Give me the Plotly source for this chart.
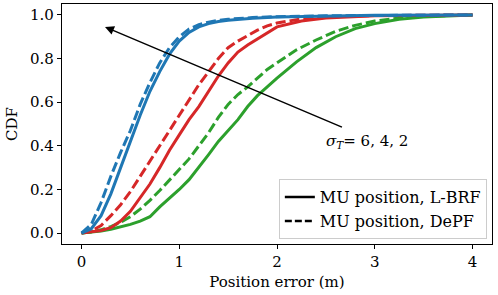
import plotly.graph_objects as go

# ---- data ----
x_blue = [0, 0.1, 0.2, 0.3, 0.4, 0.5, 0.6, 0.7, 0.8, 0.9, 1.0, 1.1, 1.2, 1.3, 1.4, 1.5, 1.75, 2.0, 2.5, 3.0, 4.0]
blue_lbrf = [0, 0.02, 0.08, 0.18, 0.30, 0.42, 0.54, 0.65, 0.74, 0.82, 0.88, 0.92, 0.945, 0.96, 0.97, 0.975, 0.985, 0.99, 0.995, 0.998, 1.0]
blue_depf = [0, 0.04, 0.14, 0.26, 0.37, 0.47, 0.59, 0.69, 0.78, 0.85, 0.90, 0.935, 0.955, 0.967, 0.975, 0.98, 0.988, 0.992, 0.996, 0.998, 1.0]

x_red = [0, 0.1, 0.2, 0.3, 0.4, 0.5, 0.6, 0.7, 0.8, 0.9, 1.0, 1.1, 1.2, 1.3, 1.4, 1.5, 1.6, 1.7, 1.8, 1.9, 2.0, 2.25, 2.5, 3.0, 4.0]
red_lbrf = [0, 0.005, 0.012, 0.025, 0.055, 0.10, 0.16, 0.225, 0.30, 0.38, 0.45, 0.52, 0.58, 0.65, 0.72, 0.78, 0.83, 0.862, 0.89, 0.92, 0.945, 0.972, 0.986, 0.996, 1.0]
red_depf = [0, 0.01, 0.035, 0.08, 0.13, 0.19, 0.26, 0.33, 0.40, 0.47, 0.54, 0.61, 0.68, 0.74, 0.80, 0.85, 0.88, 0.905, 0.93, 0.95, 0.963, 0.982, 0.991, 0.997, 1.0]

x_green = [0, 0.1, 0.2, 0.3, 0.4, 0.5, 0.6, 0.7, 0.8, 0.9, 1.0, 1.1, 1.2, 1.3, 1.4, 1.5, 1.6, 1.7, 1.8, 1.9, 2.0, 2.2, 2.4, 2.6, 2.8, 3.0, 3.25, 3.5, 4.0]
green_lbrf = [0, 0.004, 0.01, 0.018, 0.028, 0.04, 0.055, 0.075, 0.12, 0.16, 0.20, 0.245, 0.30, 0.36, 0.42, 0.47, 0.52, 0.58, 0.63, 0.67, 0.71, 0.785, 0.85, 0.90, 0.937, 0.96, 0.98, 0.99, 1.0]
green_depf = [0, 0.005, 0.015, 0.03, 0.05, 0.075, 0.11, 0.15, 0.195, 0.245, 0.29, 0.34, 0.40, 0.46, 0.53, 0.59, 0.635, 0.67, 0.71, 0.75, 0.78, 0.84, 0.885, 0.925, 0.952, 0.972, 0.986, 0.994, 1.0]

x_ticks = [0, 1, 2, 3, 4]
y_ticks = [0.0, 0.2, 0.4, 0.6, 0.8, 1.0]

BLUE, RED, GREEN = "#1f77b4", "#d62728", "#2ca02c"
FONT = "DejaVu Serif"
FS = 15
LW = 3
DASH = "10px,4px"

fig = go.Figure()
series = [
    (x_green, green_lbrf, GREEN, "solid"),
    (x_green, green_depf, GREEN, DASH),
    (x_red, red_lbrf, RED, "solid"),
    (x_red, red_depf, RED, DASH),
    (x_blue, blue_lbrf, BLUE, "solid"),
    (x_blue, blue_depf, BLUE, DASH),
]
for xs, ys, c, d in series:
    fig.add_trace(go.Scatter(x=xs, y=ys, mode="lines", line=dict(color=c, width=LW, dash=d),
                             showlegend=False, hoverinfo="skip"))

# legend entries (black)
fig.add_trace(go.Scatter(x=[None], y=[None], mode="lines", line=dict(color="black", width=2.5),
                         name="MU position, L-BRF"))
fig.add_trace(go.Scatter(x=[None], y=[None], mode="lines", line=dict(color="black", width=2.5, dash="7px,3px"),
                         name="MU position, DePF"))

fig.add_annotation(x=0.24, y=0.945, ax=2.68, ay=0.483, xref="x", yref="y", axref="x", ayref="y",
                   text="", showarrow=True, arrowhead=2, arrowsize=1.2, arrowwidth=1.5, arrowcolor="black")
fig.add_annotation(x=2.92, y=0.42, xref="x", yref="y", showarrow=False,
                   text="<i>σ</i><sub><i>T</i></sub>= 6, 4, 2", font=dict(family=FONT, size=FS, color="black"))

axis_common = dict(showline=True, linecolor="black", linewidth=1.2, mirror=True, ticks="outside",
                   ticklen=4, tickwidth=1.2, tickcolor="black", showgrid=False, zeroline=False,
                   automargin=False, tickfont=dict(family=FONT, size=FS, color="black"))
fig.update_xaxes(range=[-0.2, 4.2], tickvals=x_ticks, ticktext=[str(t) for t in x_ticks],
                 title=dict(text="Position error (m)", font=dict(family=FONT, size=FS, color="black"), standoff=6),
                 **axis_common)
fig.update_yaxes(range=[-0.05, 1.05], tickvals=y_ticks, ticktext=[f"{t:.1f}" for t in y_ticks],
                 title=dict(text="CDF", font=dict(family=FONT, size=FS, color="black"), standoff=8),
                 **axis_common)

fig.update_layout(
    width=498, height=295,
    margin=dict(l=62, r=6, t=4, b=51),
    paper_bgcolor="white", plot_bgcolor="white",
    font=dict(family=FONT, size=FS, color="black"),
    legend=dict(x=0.988, y=0.02, xanchor="right", yanchor="bottom",
                bordercolor="#cccccc", borderwidth=1, bgcolor="rgba(255,255,255,0.8)",
                font=dict(family=FONT, size=16, color="black"), tracegroupgap=0),
)

fig.write_html("out.html", config={"displayModeBar": False},
               post_script="document.body.style.margin='0';document.body.style.padding='0';")
